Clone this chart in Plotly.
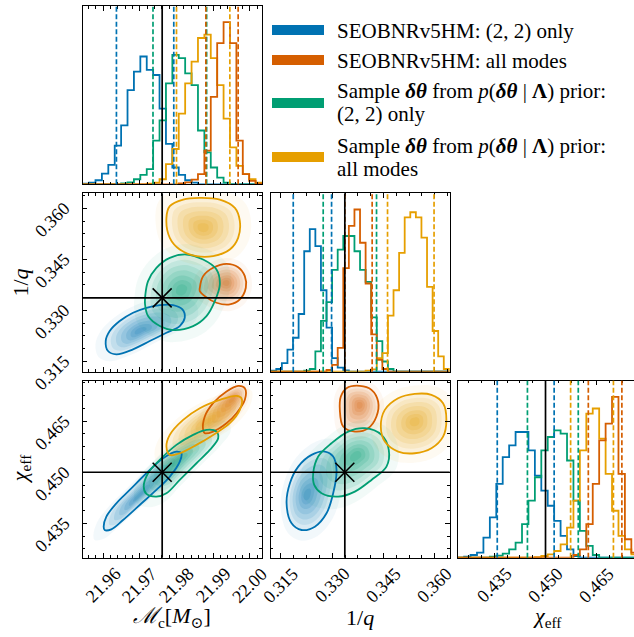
import numpy as np
import plotly.graph_objects as go

W, H = 634, 637

# ---------------- data ----------------
KEYS = ["v5_22", "v5_all", "prior_22", "prior_all"]
COLORS = {"v5_22": (0, 114, 178), "v5_all": (213, 94, 0),
          "prior_22": (0, 158, 115), "prior_all": (230, 159, 0)}
LEGEND_LINES = {
    "v5_22": ["SEOBNRv5HM: (2, 2) only"],
    "v5_all": ["SEOBNRv5HM: all modes"],
    "prior_22": ["Sample <b><i>δθ</i></b> from <i>p</i>(<b><i>δθ</i></b> | <b>Λ</b>) prior:", "(2, 2) only"],
    "prior_all": ["Sample <b><i>δθ</i></b> from <i>p</i>(<b><i>δθ</i></b> | <b>Λ</b>) prior:", "all modes"],
}

MC_RANGE = [21.95447, 22.00327]
Q_RANGE = [0.3120, 0.3644]
CHI_RANGE = [0.4249, 0.4769]
CHI_XRANGE = [0.4243, 0.4759]

MC_TICKS = [21.96, 21.97, 21.98, 21.99, 22.00]
Q_TICKS = [0.315, 0.330, 0.345, 0.360]
CHI_TICKS = [0.435, 0.450, 0.465]

TRUTH_MC = 21.9761
TRUTH_Q = 0.3337
TRUTH_CHI = 0.4500

HIST_MC_RANGE = [21.95447, 22.00327]
HIST_Q_RANGE = [0.3120, 0.3643]
HIST_CHI_RANGE = [0.4243, 0.4770]

HIST_MC = {
    "v5_22":     [2, 5, 12, 32, 58, 115, 175, 280, 335, 380, 340, 325, 225, 120, 50, 28, 12, 5, 0, 0, 0, 0, 0, 0, 0, 0, 0, 0],
    "prior_22":  [0, 0, 0, 0, 0, 0, 3, 6, 15, 28, 45, 130, 190, 300, 385, 375, 330, 295, 160, 95, 50, 20, 5, 0, 0, 0, 0, 0],
    "prior_all": [0, 0, 0, 0, 0, 0, 0, 0, 0, 0, 2, 5, 15, 60, 105, 210, 300, 365, 435, 445, 375, 295, 195, 110, 55, 30, 15, 5],
    "v5_all":    [0, 0, 0, 0, 0, 0, 0, 0, 0, 0, 0, 0, 0, 0, 0, 3, 6, 14, 30, 100, 260, 420, 482, 420, 130, 30, 10, 2],
}
HIST_Q = {
    "v5_22":     [3, 8, 25, 65, 100, 170, 355, 420, 370, 240, 130, 40, 12, 4, 0, 0, 0, 0, 0, 0, 0, 0, 0, 0, 0, 0, 0, 0, 0, 0, 0, 0],
    "prior_22":  [0, 0, 0, 0, 0, 0, 3, 8, 60, 150, 205, 300, 360, 400, 400, 355, 300, 265, 160, 90, 30, 8, 0, 0, 0, 0, 0, 0, 0, 0, 0, 0],
    "v5_all":    [0, 0, 0, 0, 0, 0, 0, 0, 0, 0, 5, 20, 70, 305, 430, 478, 380, 260, 110, 35, 8, 0, 0, 0, 0, 0, 0, 0, 0, 0, 0, 0],
    "prior_all": [0, 0, 0, 0, 0, 0, 0, 0, 0, 0, 0, 0, 0, 0, 0, 0, 0, 3, 7, 40, 55, 165, 240, 350, 455, 470, 455, 395, 250, 120, 45, 8],
}
HIST_CHI = {
    "v5_22":     [0, 3, 8, 15, 60, 120, 220, 300, 335, 375, 375, 320, 245, 200, 155, 110, 65, 25, 5, 0, 0, 0, 0, 0, 0, 0, 0, 0],
    "prior_22":  [0, 0, 0, 0, 0, 3, 6, 12, 25, 45, 100, 170, 240, 320, 360, 380, 370, 290, 170, 80, 35, 8, 0, 0, 0, 0, 0, 0],
    "prior_all": [0, 0, 0, 0, 0, 0, 0, 0, 0, 0, 0, 0, 2, 5, 10, 20, 40, 90, 170, 320, 430, 445, 355, 250, 140, 65, 25, 10],
    "v5_all":    [0, 0, 0, 0, 0, 0, 0, 0, 0, 0, 0, 0, 0, 0, 0, 0, 0, 0, 8, 25, 100, 220, 350, 400, 480, 250, 55, 15],
}

Q90_MC = {"v5_22": [21.96365, 21.97926], "prior_22": [21.9736, 21.9882],
          "prior_all": [21.9800, 21.99452], "v5_all": [21.98798, 21.99678]}
Q90_Q = {"v5_22": [0.3186, 0.32982], "prior_22": [0.32737, 0.34298],
         "v5_all": [0.33371, 0.3417], "prior_all": [0.3462, 0.35982]}
Q90_CHI = {"v5_22": [0.43588, 0.45253], "prior_22": [0.44471, 0.45959],
           "prior_all": [0.45735, 0.46988], "v5_all": [0.46253, 0.47235]}

# 2D credible contours (x list, y list) and density peaks
CONT_MC_Q = {
    "v5_22": ([21.96073, 21.96182, 21.96454, 21.96817, 21.97181, 21.97544, 21.97907, 21.98162, 21.98225, 21.98089, 21.97726, 21.97272, 21.96817, 21.96363, 21.96136],
              [0.32100, 0.32394, 0.32687, 0.32932, 0.33078, 0.33156, 0.33156, 0.33029, 0.32785, 0.32540, 0.32345, 0.32100, 0.31856, 0.31709, 0.31807]),
    "prior_22": ([21.97153, 21.97226, 21.97453, 21.97817, 21.98271, 21.98725, 21.99088, 21.99179, 21.99043, 21.98816, 21.98452, 21.97907, 21.97544, 21.97226, 21.97144],
                 [0.33469, 0.33861, 0.34252, 0.34545, 0.34643, 0.34496, 0.34203, 0.33763, 0.33274, 0.32834, 0.32540, 0.32423, 0.32540, 0.32834, 0.33176]),
    "v5_all": ([21.98634, 21.98725, 21.98997, 21.99361, 21.99678, 21.99860, 21.99887, 21.99724, 21.99451, 21.99088, 21.98770, 21.98634],
               [0.33665, 0.34007, 0.34252, 0.34369, 0.34271, 0.34007, 0.33665, 0.33323, 0.33176, 0.33225, 0.33420, 0.33567]),
    "prior_all": ([21.97726, 21.97817, 21.98180, 21.98634, 21.99179, 21.99588, 21.99724, 21.99678, 21.99451, 21.98997, 21.98543, 21.98089, 21.97817],
                  [0.35719, 0.36061, 0.36257, 0.36306, 0.36257, 0.36012, 0.35621, 0.35132, 0.34790, 0.34594, 0.34594, 0.34790, 0.35132]),
}
PEAK_MC_Q = {"v5_22": (21.9700, 0.32394), "prior_22": (21.98134, 0.33616),
             "v5_all": (21.99361, 0.33812), "prior_all": (21.98725, 0.35425)}

CONT_MC_CHI = {
    "v5_22": ([21.96018, 21.96091, 21.96363, 21.96727, 21.97181, 21.97635, 21.97998, 21.98134, 21.98089, 21.97817, 21.97453, 21.96999, 21.96545, 21.96227, 21.96045],
              [0.43402, 0.43696, 0.44088, 0.44480, 0.44971, 0.45412, 0.45608, 0.45559, 0.45314, 0.44873, 0.44480, 0.44039, 0.43598, 0.43324, 0.43304]),
    "prior_22": ([21.97108, 21.97226, 21.97544, 21.97998, 21.98452, 21.98816, 21.99088, 21.99134, 21.98906, 21.98543, 21.98089, 21.97726, 21.97453, 21.97181],
                 [0.44578, 0.44971, 0.45363, 0.45804, 0.46098, 0.46245, 0.46196, 0.46000, 0.45657, 0.45265, 0.44775, 0.44382, 0.44284, 0.44363]),
    "v5_all": ([21.98725, 21.98770, 21.98997, 21.99361, 21.99678, 21.99860, 21.99860, 21.99633, 21.99361, 21.98997, 21.98770],
               [0.46245, 0.46637, 0.47030, 0.47373, 0.47539, 0.47471, 0.47127, 0.46735, 0.46441, 0.46196, 0.46147]),
    "prior_all": ([21.97726, 21.97817, 21.98180, 21.98634, 21.99179, 21.99633, 21.99769, 21.99724, 21.99451, 21.98997, 21.98543, 21.98089, 21.97817],
                  [0.45755, 0.46098, 0.46539, 0.46882, 0.47127, 0.47245, 0.47176, 0.46833, 0.46441, 0.46098, 0.45804, 0.45559, 0.45510]),
}
PEAK_MC_CHI = {"v5_22": (21.96954, 0.44284), "prior_22": (21.97998, 0.45314),
               "v5_all": (21.99542, 0.47176), "prior_all": (21.98816, 0.46490)}

CONT_Q_CHI = {
    "v5_22": ([0.31665, 0.31762, 0.32006, 0.32396, 0.32786, 0.33029, 0.33127, 0.33029, 0.32834, 0.32493, 0.32103, 0.31811],
              [0.44088, 0.44676, 0.45167, 0.45510, 0.45608, 0.45461, 0.45069, 0.44382, 0.43794, 0.43402, 0.43304, 0.43500]),
    "prior_22": ([0.32444, 0.32591, 0.32980, 0.33468, 0.33955, 0.34443, 0.34657, 0.34589, 0.34150, 0.33663, 0.33175, 0.32688, 0.32474],
                 [0.44971, 0.45461, 0.45853, 0.46196, 0.46294, 0.46098, 0.45657, 0.45167, 0.44775, 0.44431, 0.44284, 0.44382, 0.44627]),
    "v5_all": ([0.33224, 0.33253, 0.33419, 0.33809, 0.34150, 0.34345, 0.34296, 0.34053, 0.33663, 0.33322],
               [0.46833, 0.47225, 0.47471, 0.47539, 0.47422, 0.47078, 0.46637, 0.46294, 0.46196, 0.46343]),
    "prior_all": ([0.34423, 0.34540, 0.34930, 0.35417, 0.35905, 0.36246, 0.36343, 0.36246, 0.35905, 0.35417, 0.34930, 0.34540],
                  [0.46343, 0.46833, 0.47176, 0.47304, 0.47275, 0.47029, 0.46539, 0.46049, 0.45706, 0.45559, 0.45608, 0.45902]),
}
PEAK_Q_CHI = {"v5_22": (0.3225, 0.44333), "prior_22": (0.33712, 0.45510),
              "v5_all": (0.33809, 0.46980), "prior_all": (0.35417, 0.46490)}

# ---------------- layout helpers ----------------
def pxx(p):
    return p / W


def pxy(p):
    return 1 - p / H


COL = [[pxx(82.7), pxx(262.0)], [pxx(270.7), pxx(449.7)], [pxx(457.7), 1.0]]
ROW = [[pxy(184.3), pxy(6.0)], [pxy(371.7), pxy(193.3)], [pxy(557.7), pxy(380.7)]]

SERIF = "Liberation Serif, DejaVu Serif, serif"


def rgba(k, a):
    r, g, b = COLORS[k]
    return f"rgba({r},{g},{b},{a})"


def axis(rng, dom, anchor, tick0=None, dtick=None, mdtick=None, ticks=True):
    d = dict(range=rng, domain=dom, anchor=anchor, showgrid=False, zeroline=False,
             showline=True, linecolor="black", linewidth=1.2,
             showticklabels=False, fixedrange=True)
    if ticks:
        d.update(mirror="ticks", ticks="inside", ticklen=4.5, tickwidth=1, tickcolor="black",
                 tick0=tick0, dtick=dtick,
                 minor=dict(ticks="inside", ticklen=2.5, tickwidth=0.8, tickcolor="black",
                            tick0=tick0, dtick=mdtick, showgrid=False))
    else:
        d.update(mirror=True, ticks="")
    return d


MC_AX = dict(tick0=21.96, dtick=0.01, mdtick=0.002)
Q_AX = dict(tick0=0.315, dtick=0.015, mdtick=0.00375)
CHI_AX = dict(tick0=0.435, dtick=0.015, mdtick=0.00375)

fig = go.Figure()
shapes = []
annotations = []


def hist_panel(xa, ya, hists, rng, q90, truth):
    n = len(next(iter(hists.values())))
    edges = np.linspace(rng[0], rng[1], n + 1)
    for k in ["v5_22", "prior_22", "prior_all", "v5_all"]:
        h = hists[k]
        xs = [edges[0]] + list(edges)
        ys = [0] + list(h) + [0]
        fig.add_trace(go.Scatter(x=xs, y=ys, mode="lines", line=dict(color=rgba(k, 1), width=1.8, shape="hv"),
                                 xaxis=xa, yaxis=ya, hoverinfo="skip"))
        for v in q90[k]:
            shapes.append(dict(type="line", xref=xa, yref=ya + " domain", x0=v, x1=v, y0=0, y1=1,
                               line=dict(color=rgba(k, 1), width=1.7, dash="5px,2.5px")))
    shapes.append(dict(type="line", xref=xa, yref=ya + " domain", x0=truth, x1=truth, y0=0, y1=1,
                       line=dict(color="black", width=1.7)))
    return 1.1 * max(max(v) for v in hists.values())


LAYERS = [(1.3, 0.05), (1.0, 0.10), (0.85, 0.10), (0.7, 0.12), (0.55, 0.12),
          (0.4, 0.14), (0.27, 0.14), (0.15, 0.14)]


def panel2d(xa, ya, conts, peaks, tx, ty):
    order = ["v5_22", "v5_all", "prior_22", "prior_all"]
    for k in order:
        cx, cy = np.array(conts[k][0]), np.array(conts[k][1])
        px, py = peaks[k]
        for s, a in LAYERS:
            xs = px + s * (cx - px)
            ys = py + s * (cy - py)
            xs = list(xs) + [xs[0]]
            ys = list(ys) + [ys[0]]
            fig.add_trace(go.Scatter(x=xs, y=ys, mode="lines", fill="toself", fillcolor=rgba(k, a),
                                     line=dict(width=0, shape="spline", smoothing=1.0),
                                     xaxis=xa, yaxis=ya, hoverinfo="skip"))
    for k in order:
        cx, cy = list(conts[k][0]), list(conts[k][1])
        fig.add_trace(go.Scatter(x=cx + [cx[0]], y=cy + [cy[0]], mode="lines",
                                 line=dict(color=rgba(k, 1), width=1.8, shape="spline", smoothing=1.0),
                                 xaxis=xa, yaxis=ya, hoverinfo="skip"))
    shapes.append(dict(type="line", xref=xa, yref=ya + " domain", x0=tx, x1=tx, y0=0, y1=1,
                       line=dict(color="black", width=1.7)))
    shapes.append(dict(type="line", xref=xa + " domain", yref=ya, x0=0, x1=1, y0=ty, y1=ty,
                       line=dict(color="black", width=1.7)))
    fig.add_trace(go.Scatter(x=[tx], y=[ty], mode="markers",
                             marker=dict(symbol="x-thin", size=19, line=dict(color="black", width=1.6)),
                             xaxis=xa, yaxis=ya, hoverinfo="skip"))


topA = hist_panel("x", "y", HIST_MC, HIST_MC_RANGE, Q90_MC, TRUTH_MC)
topC = hist_panel("x3", "y3", HIST_Q, HIST_Q_RANGE, Q90_Q, TRUTH_Q)
topF = hist_panel("x6", "y6", HIST_CHI, HIST_CHI_RANGE, Q90_CHI, TRUTH_CHI)
panel2d("x2", "y2", CONT_MC_Q, PEAK_MC_Q, TRUTH_MC, TRUTH_Q)
panel2d("x4", "y4", CONT_MC_CHI, PEAK_MC_CHI, TRUTH_MC, TRUTH_CHI)
panel2d("x5", "y5", CONT_Q_CHI, PEAK_Q_CHI, TRUTH_Q, TRUTH_CHI)

layout_axes = dict(
    xaxis=axis(MC_RANGE, COL[0], "y", **MC_AX), yaxis=axis([0, topA], ROW[0], "x", ticks=False),
    xaxis2=axis(MC_RANGE, COL[0], "y2", **MC_AX), yaxis2=axis(Q_RANGE, ROW[1], "x2", **Q_AX),
    xaxis3=axis(Q_RANGE, COL[1], "y3", **Q_AX), yaxis3=axis([0, topC], ROW[1], "x3", ticks=False),
    xaxis4=axis(MC_RANGE, COL[0], "y4", **MC_AX), yaxis4=axis(CHI_RANGE, ROW[2], "x4", **CHI_AX),
    xaxis5=axis(Q_RANGE, COL[1], "y5", **Q_AX), yaxis5=axis(CHI_RANGE, ROW[2], "x5", **CHI_AX),
    xaxis6=axis(CHI_XRANGE, COL[2], "y6", **CHI_AX), yaxis6=axis([0, topF], ROW[2], "x6", ticks=False),
)

# tick labels (matplotlib-style rotated, centred)
TICK_FONT = dict(family=SERIF, size=18, color="black")
XLAB_Y = pxy(585)
for xa, vals, fmt in [("x4", MC_TICKS, "{:.2f}"), ("x5", Q_TICKS, "{:.3f}"), ("x6", CHI_TICKS, "{:.3f}")]:
    for v in vals:
        annotations.append(dict(x=v, y=XLAB_Y, xref=xa, yref="paper", text=fmt.format(v), showarrow=False,
                                textangle=-45, xanchor="center", yanchor="middle", font=TICK_FONT))
for ya, vals in [("y2", Q_TICKS), ("y4", CHI_TICKS)]:
    for v in vals:
        annotations.append(dict(x=pxx(53), y=v, xref="paper", yref=ya, yshift=-11, text="{:.3f}".format(v),
                                showarrow=False, textangle=-45, xanchor="center", yanchor="middle",
                                font=TICK_FONT))

TITLE_FONT = dict(family=SERIF, size=22, color="black")
XT_Y = pxy(617)
annotations.append(dict(x=(COL[0][0] + COL[0][1]) / 2, y=XT_Y, xref="paper", yref="paper",
                        text="<i>ℳ</i><sub>c</sub>[<i>M</i><sub>⊙</sub>]", showarrow=False,
                        xanchor="center", yanchor="middle", font=TITLE_FONT))
annotations.append(dict(x=(COL[1][0] + COL[1][1]) / 2, y=XT_Y, xref="paper", yref="paper",
                        text="1/<i>q</i>", showarrow=False, xanchor="center", yanchor="middle", font=TITLE_FONT))
annotations.append(dict(x=pxx(547), y=XT_Y, xref="paper", yref="paper",
                        text="<i>χ</i><sub>eff</sub>", showarrow=False, xanchor="center", yanchor="middle",
                        font=TITLE_FONT))
annotations.append(dict(x=pxx(20), y=(ROW[1][0] + ROW[1][1]) / 2, xref="paper", yref="paper",
                        text="1/<i>q</i>", showarrow=False, textangle=-90, xanchor="center", yanchor="middle",
                        font=TITLE_FONT))
annotations.append(dict(x=pxx(21), y=(ROW[2][0] + ROW[2][1]) / 2, xref="paper", yref="paper",
                        text="<i>χ</i><sub>eff</sub>", showarrow=False, textangle=-90, xanchor="center",
                        yanchor="middle", font=TITLE_FONT))

# legend (drawn manually)
LEG_BAR_Y = {"v5_22": 30, "v5_all": 60, "prior_22": 103, "prior_all": 157}
LEG_TXT_Y = {"v5_22": [31], "v5_all": [61], "prior_22": [91, 114], "prior_all": [146, 168.5]}
LEG_FONT = dict(family=SERIF, size=21, color="black")
for k in KEYS:
    yc = LEG_BAR_Y[k]
    shapes.append(dict(type="rect", xref="paper", yref="paper", x0=pxx(272), x1=pxx(324),
                       y0=pxy(yc + 5), y1=pxy(yc - 5), fillcolor=rgba(k, 1), line=dict(width=0)))
    for line, ty in zip(LEGEND_LINES[k], LEG_TXT_Y[k]):
        annotations.append(dict(x=pxx(335), y=pxy(ty), xref="paper", yref="paper", text=line,
                                showarrow=False, xanchor="left", yanchor="middle", font=LEG_FONT))

fig.update_layout(
    width=W, height=H, margin=dict(l=0, r=0, t=0, b=0),
    paper_bgcolor="white", plot_bgcolor="white", showlegend=False,
    shapes=shapes, annotations=annotations, **layout_axes,
)

fig.write_html("out.html")
